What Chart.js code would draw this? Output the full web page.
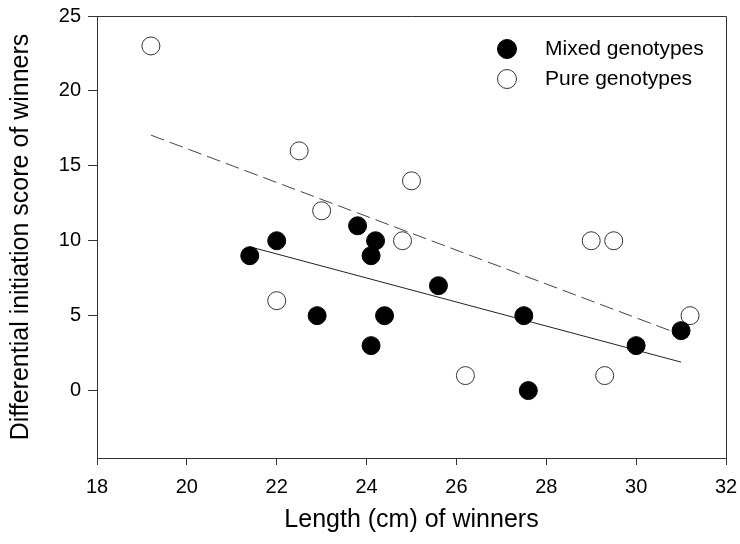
<!DOCTYPE html>
<html>
<head>
<meta charset="utf-8">
<script src="https://cdn.jsdelivr.net/npm/chart.js@4.4.1/dist/chart.umd.min.js"></script>
<style>
  html, body { margin: 0; padding: 0; background: #fff; }
</style>
</head>
<body>
<canvas id="winnersChart" width="740" height="544"></canvas>
<script>
// values
const mixedLength = [21.4, 22, 22.9, 23.8, 24.1, 24.2, 24.1, 24.4, 25.6, 27.5, 27.6, 30, 31];
const mixedScore = [9, 10, 5, 11, 9, 10, 3, 5, 7, 5, 0, 3, 4];
const pureLength = [19.2, 22.5, 23, 22, 24.8, 25, 26.2, 29, 29.5, 29.3, 31.2];
const pureScore = [23, 16, 12, 6, 10, 14, 1, 10, 10, 1, 5];

// fitted lines (end points)
const mixedFitLength = [21.4, 31];
const mixedFitScore = [9.6, 1.9];
const pureFitLength = [19.2, 31.2];
const pureFitScore = [17.05, 3.5];

const xTicks = [18, 20, 22, 24, 26, 28, 30, 32];
const yTicks = [0, 5, 10, 15, 20, 25];

const FONT = '"Liberation Sans", Arial, sans-serif';

const toPoints = (xs, ys) => xs.map((x, i) => ({ x: x, y: ys[i] }));

// full box round the plot
const frame = {
  id: 'frame',
  afterDraw(chart) {
    const { ctx, chartArea: a } = chart;
    ctx.save();
    ctx.strokeStyle = '#333';
    ctx.lineWidth = 1;
    ctx.beginPath();
    ctx.moveTo(a.left, a.top + 0.5);
    ctx.lineTo(a.right + 0.5, a.top + 0.5);
    ctx.lineTo(a.right + 0.5, a.bottom);
    ctx.stroke();
    ctx.restore();
  }
};

// legend sits inside the plot, top right
const insideLegend = {
  id: 'insideLegend',
  afterDraw(chart) {
    const { ctx, chartArea: a } = chart;
    const entries = chart.data.datasets.filter(d => d.inLegend);
    ctx.save();
    ctx.font = '21px ' + FONT;
    ctx.textBaseline = 'middle';
    entries.forEach((d, i) => {
      const cy = a.top + 33 + i * 30;
      const cx = a.right - 219;
      ctx.beginPath();
      ctx.arc(cx, cy, 9.5, 0, Math.PI * 2);
      ctx.fillStyle = d.backgroundColor;
      ctx.fill();
      ctx.strokeStyle = d.borderColor;
      ctx.lineWidth = 1;
      ctx.stroke();
      ctx.fillStyle = '#000';
      ctx.fillText(d.label, cx + 38, cy);
    });
    ctx.restore();
  }
};

new Chart(document.getElementById('winnersChart'), {
  type: 'scatter',
  data: {
    datasets: [
      {
        label: 'Mixed genotypes',
        inLegend: true,
        data: toPoints(mixedLength, mixedScore),
        backgroundColor: '#000',
        borderColor: '#000',
        borderWidth: 1,
        pointRadius: 9,
        order: 1
      },
      {
        label: 'Pure genotypes',
        inLegend: true,
        data: toPoints(pureLength, pureScore),
        backgroundColor: '#fff',
        borderColor: '#333',
        borderWidth: 1,
        pointRadius: 9,
        order: 1
      },
      {
        label: 'Mixed fit',
        data: toPoints(mixedFitLength, mixedFitScore),
        showLine: true,
        borderColor: '#222',
        borderWidth: 1,
        pointRadius: 0,
        order: 2
      },
      {
        label: 'Pure fit',
        data: toPoints(pureFitLength, pureFitScore),
        showLine: true,
        borderColor: '#444',
        borderWidth: 1,
        borderDash: [14, 6],
        pointRadius: 0,
        order: 2
      }
    ]
  },
  options: {
    responsive: false,
    animation: false,
    layout: { padding: { top: 16, right: 14, left: 0, bottom: 0 } },
    plugins: {
      legend: { display: false },
      tooltip: { enabled: false }
    },
    scales: {
      x: {
        type: 'linear',
        min: 18,
        max: 32,
        afterBuildTicks: axis => { axis.ticks = xTicks.map(v => ({ value: v })); },
        afterFit: axis => {
          axis.height = 86;
          axis.paddingLeft = 0;
          axis.paddingRight = 0;
        },
        grid: { drawOnChartArea: false, tickLength: 7, color: '#333' },
        border: { color: '#333' },
        ticks: { color: '#000', padding: 10, maxRotation: 0, font: { family: FONT, size: 20 } },
        title: {
          display: true,
          text: 'Length (cm) of winners',
          color: '#000',
          font: { family: FONT, size: 25 },
          padding: { top: 0, bottom: 9 }
        }
      },
      y: {
        type: 'linear',
        min: -4.5,
        max: 25,
        afterBuildTicks: axis => { axis.ticks = yTicks.map(v => ({ value: v })); },
        afterFit: axis => {
          axis.width = 97;
          axis.paddingTop = 0;
          axis.paddingBottom = 0;
        },
        grid: { drawOnChartArea: false, tickLength: 9, color: '#333' },
        border: { color: '#333' },
        ticks: { color: '#000', padding: 7, font: { family: FONT, size: 20 } },
        title: {
          display: true,
          text: 'Differential initiation score of winners',
          color: '#000',
          font: { family: FONT, size: 25 },
          padding: { top: 6, bottom: 0 }
        }
      }
    }
  },
  plugins: [frame, insideLegend]
});
</script>
</body>
</html>
